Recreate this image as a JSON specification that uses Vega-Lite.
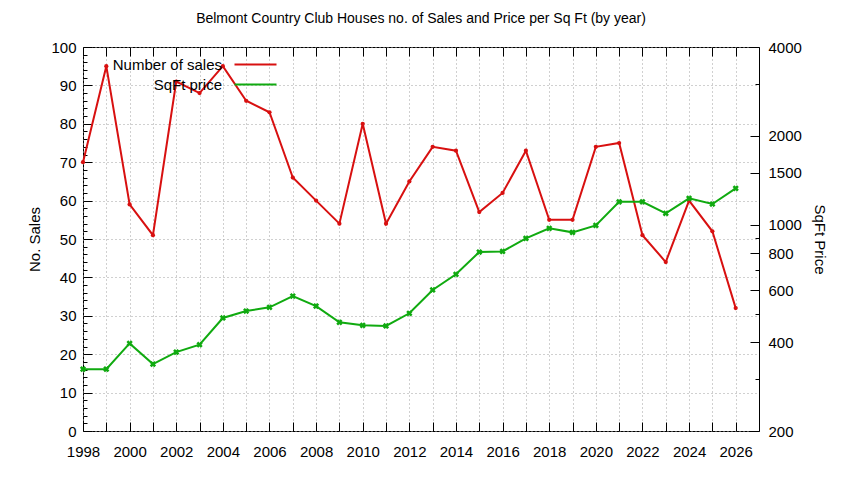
{
  "$schema": "https://vega.github.io/schema/vega-lite/v6.json",
  "width": 676,
  "height": 384,
  "autosize": "none",
  "padding": {"left": 83, "top": 47, "right": 85, "bottom": 49},
  "background": "white",
  "title": {
    "text": "Belmont Country Club Houses no. of Sales and Price per Sq Ft (by year)",
    "font": "Liberation Sans",
    "fontSize": 14,
    "fontWeight": "normal",
    "color": "black",
    "offset": 14
  },
  "config": {
    "view": {"stroke": "black", "strokeWidth": 1},
    "axis": {
      "labelFont": "Liberation Sans",
      "labelFontSize": 15,
      "labelColor": "black",
      "titleFont": "Liberation Sans",
      "titleFontSize": 15,
      "titleFontWeight": "normal",
      "titleColor": "black",
      "domain": false,
      "tickColor": "black",
      "gridColor": "#a0a0a0",
      "gridDash": [1, 3],
      "labelOverlap": false,
      "labelFlush": false
    },
    "legend": {
      "labelFont": "Liberation Sans",
      "labelFontSize": 15,
      "labelColor": "black"
    }
  },
  "data": {
    "values": [
      {"year": 1998, "series": "Number of sales", "value": 70},
      {"year": 1999, "series": "Number of sales", "value": 95},
      {"year": 2000, "series": "Number of sales", "value": 59},
      {"year": 2001, "series": "Number of sales", "value": 51},
      {"year": 2002, "series": "Number of sales", "value": 91},
      {"year": 2003, "series": "Number of sales", "value": 88},
      {"year": 2004, "series": "Number of sales", "value": 95},
      {"year": 2005, "series": "Number of sales", "value": 86},
      {"year": 2006, "series": "Number of sales", "value": 83},
      {"year": 2007, "series": "Number of sales", "value": 66},
      {"year": 2008, "series": "Number of sales", "value": 60},
      {"year": 2009, "series": "Number of sales", "value": 54},
      {"year": 2010, "series": "Number of sales", "value": 80},
      {"year": 2011, "series": "Number of sales", "value": 54},
      {"year": 2012, "series": "Number of sales", "value": 65},
      {"year": 2013, "series": "Number of sales", "value": 74},
      {"year": 2014, "series": "Number of sales", "value": 73},
      {"year": 2015, "series": "Number of sales", "value": 57},
      {"year": 2016, "series": "Number of sales", "value": 62},
      {"year": 2017, "series": "Number of sales", "value": 73},
      {"year": 2018, "series": "Number of sales", "value": 55},
      {"year": 2019, "series": "Number of sales", "value": 55},
      {"year": 2020, "series": "Number of sales", "value": 74},
      {"year": 2021, "series": "Number of sales", "value": 75},
      {"year": 2022, "series": "Number of sales", "value": 51},
      {"year": 2023, "series": "Number of sales", "value": 44},
      {"year": 2024, "series": "Number of sales", "value": 60},
      {"year": 2025, "series": "Number of sales", "value": 52},
      {"year": 2026, "series": "Number of sales", "value": 32},
      {"year": 1998, "series": "SqFt price", "value": 324},
      {"year": 1999, "series": "SqFt price", "value": 324},
      {"year": 2000, "series": "SqFt price", "value": 396},
      {"year": 2001, "series": "SqFt price", "value": 337},
      {"year": 2002, "series": "SqFt price", "value": 370},
      {"year": 2003, "series": "SqFt price", "value": 392},
      {"year": 2004, "series": "SqFt price", "value": 483},
      {"year": 2005, "series": "SqFt price", "value": 510},
      {"year": 2006, "series": "SqFt price", "value": 525},
      {"year": 2007, "series": "SqFt price", "value": 573},
      {"year": 2008, "series": "SqFt price", "value": 530},
      {"year": 2009, "series": "SqFt price", "value": 467},
      {"year": 2010, "series": "SqFt price", "value": 456},
      {"year": 2011, "series": "SqFt price", "value": 454},
      {"year": 2012, "series": "SqFt price", "value": 501},
      {"year": 2013, "series": "SqFt price", "value": 601},
      {"year": 2014, "series": "SqFt price", "value": 679},
      {"year": 2015, "series": "SqFt price", "value": 808},
      {"year": 2016, "series": "SqFt price", "value": 812},
      {"year": 2017, "series": "SqFt price", "value": 899},
      {"year": 2018, "series": "SqFt price", "value": 972},
      {"year": 2019, "series": "SqFt price", "value": 942},
      {"year": 2020, "series": "SqFt price", "value": 995},
      {"year": 2021, "series": "SqFt price", "value": 1196},
      {"year": 2022, "series": "SqFt price", "value": 1196},
      {"year": 2023, "series": "SqFt price", "value": 1093},
      {"year": 2024, "series": "SqFt price", "value": 1228},
      {"year": 2025, "series": "SqFt price", "value": 1175},
      {"year": 2026, "series": "SqFt price", "value": 1328}
    ]
  },
  "layer": [
    {
      "transform": [{"filter": "datum.series === 'Number of sales'"}],
      "mark": {
        "type": "line",
        "strokeWidth": 2,
        "point": {"filled": true, "size": 18, "shape": "circle"}
      },
      "encoding": {
        "x": {
          "field": "year",
          "type": "quantitative",
          "scale": {"domain": [1998, 2027], "nice": false, "zero": false},
          "axis": {
            "orient": "bottom",
            "title": null,
            "values": [1998, 1999, 2000, 2001, 2002, 2003, 2004, 2005, 2006, 2007, 2008, 2009, 2010, 2011, 2012, 2013, 2014, 2015, 2016, 2017, 2018, 2019, 2020, 2021, 2022, 2023, 2024, 2025, 2026],
            "labelExpr": "datum.value % 2 === 0 ? datum.value : ''",
            "format": "d",
            "tickSize": -9,
            "labelPadding": 22,
            "grid": true
          }
        },
        "y": {
          "field": "value",
          "type": "quantitative",
          "scale": {"domain": [0, 100], "nice": false},
          "axis": {
            "orient": "left",
            "title": "No. Sales",
            "values": [0, 2, 4, 6, 8, 10, 12, 14, 16, 18, 20, 22, 24, 26, 28, 30, 32, 34, 36, 38, 40, 42, 44, 46, 48, 50, 52, 54, 56, 58, 60, 62, 64, 66, 68, 70, 72, 74, 76, 78, 80, 82, 84, 86, 88, 90, 92, 94, 96, 98, 100],
            "labelExpr": "datum.value % 10 === 0 ? datum.value : ''",
            "tickSize": {"condition": {"test": "datum.value % 10 === 0", "value": -9}, "value": -4},
            "gridOpacity": {"condition": {"test": "datum.value % 10 === 0", "value": 1}, "value": 0},
            "labelPadding": 16,
            "titlePadding": 8,
            "grid": true
          }
        },
        "color": {
          "field": "series",
          "type": "nominal",
          "scale": {"domain": ["Number of sales", "SqFt price"], "range": ["#d81010", "#10aa10"]},
          "legend": {
            "title": null,
            "orient": "none",
            "legendX": 161,
            "legendY": 6,
            "symbolType": "M-2,0H2",
            "symbolSize": 441,
            "symbolStrokeWidth": 2,
            "labelAlign": "right",
            "labelOffset": -45,
            "rowPadding": 0
          }
        }
      }
    },
    {
      "transform": [{"filter": "datum.series === 'SqFt price'"}],
      "mark": {
        "type": "line",
        "strokeWidth": 2,
        "point": {"filled": true, "size": 40, "shape": "cross", "angle": 45}
      },
      "encoding": {
        "x": {
          "field": "year",
          "type": "quantitative",
          "scale": {"domain": [1998, 2027], "nice": false, "zero": false},
          "axis": {
            "orient": "top",
            "title": null,
            "values": [1998, 1999, 2000, 2001, 2002, 2003, 2004, 2005, 2006, 2007, 2008, 2009, 2010, 2011, 2012, 2013, 2014, 2015, 2016, 2017, 2018, 2019, 2020, 2021, 2022, 2023, 2024, 2025, 2026],
            "labels": false,
            "tickSize": -9,
            "grid": false
          }
        },
        "y": {
          "field": "value",
          "type": "quantitative",
          "scale": {"type": "log", "domain": [200, 4000], "nice": false},
          "axis": {
            "orient": "right",
            "title": "SqFt Price",
            "values": [200, 300, 400, 500, 600, 700, 800, 900, 1000, 1500, 2000, 3000, 4000],
            "labelExpr": "indexof([300, 500, 700, 900, 3000], datum.value) >= 0 ? '' : datum.value",
            "tickSize": {"condition": {"test": "indexof([300, 500, 700, 900, 3000], datum.value) >= 0", "value": -4}, "value": -9},
            "labelPadding": 18,
            "titlePadding": 10,
            "grid": false
          }
        },
        "color": {"field": "series", "type": "nominal"}
      }
    }
  ],
  "resolve": {"scale": {"y": "independent"}, "axis": {"x": "independent"}}
}
